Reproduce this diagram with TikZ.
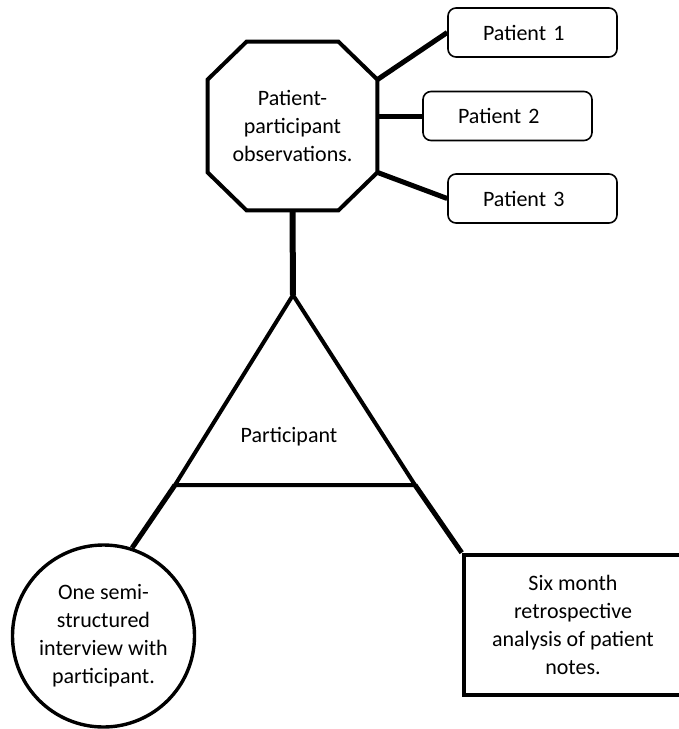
\documentclass[tikz,border=0pt]{standalone}
\usepackage{fontspec}
\setmainfont{Carlito}

\begin{document}
\begin{tikzpicture}[x=0.5pt, y=-0.5pt,
	every node/.style={font=\fontsize{11}{14}\selectfont, align=center, inner sep=0pt},
	patientbox/.style={draw=black, line width=0.8pt, rounded corners=4pt, minimum width=84.5pt, minimum height=24.5pt, text width=49.5pt, align=left, inner xsep=17.5pt},
	link/.style={draw=black, line width=2.5pt},
	side/.style={draw=black, line width=2pt}]
				\useasboundingbox (0,0) rectangle (679,729);
				
				\node[minimum width=84.5pt, minimum height=84pt] (obs) at (292.5,126){Patient-\\participant\\observations.};
				\draw[side, line join=miter] ([xshift=19.5pt]obs.north west) -- ([xshift=-19.5pt]obs.north east)
					-- ([yshift=-19pt]obs.north east) -- ([yshift=19pt]obs.south east)
					-- ([xshift=-19.5pt]obs.south east) -- ([xshift=19.5pt]obs.south west)
					-- ([yshift=19pt]obs.south west) -- ([yshift=-19pt]obs.north west) -- cycle;
				
				\node[patientbox] (p1) at (532.5,32.5){Patient 1};
				\node[patientbox] (p2) at (507.5,116){Patient 2};
				\node[patientbox] (p3) at (532.5,198.5){Patient 3};
				
				\coordinate (apex) at (293,295);
				\coordinate (bl) at (175,485);
				\coordinate (br) at (415,485);
				\node (part) at (289,437){Participant};
				
				\node[draw=black, line width=1.7pt, circle, minimum size=91pt] (interview) at (103.5,636){One semi-\\structured\\interview with\\participant.};
				\node[draw=black, line width=2.3pt, rectangle, minimum width=109pt, minimum height=70pt] (notes) at (573,625){Six month\\retrospective\\analysis of patient\\notes.};
				
				\path ([yshift=-19pt]obs.north east) edge[link] (p1.west);
				\path (obs.east |- p2.west) edge[link] (p2.west);
				\path ([yshift=19pt]obs.south east) edge[link] (p3.west);
				\path (obs.south) edge[draw=black, line width=3pt] (apex);
				
				\draw[side, line join=miter] (apex) -- (bl) -- (br) -- cycle;
				\path (bl) edge[link] (interview.72);
				\path (br) edge[link] (notes.north west);
				\end{tikzpicture}
\end{document}
